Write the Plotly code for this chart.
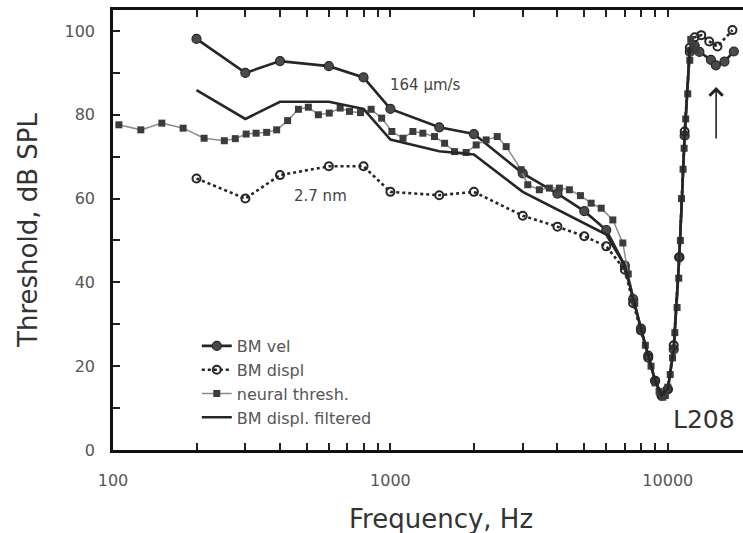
import numpy as np
import plotly.graph_objects as go

FONT = "DejaVu Sans"

# ---- data ----
vel_f = [200, 300, 400, 600, 800, 1000, 1500, 2000, 3000, 4000, 5000, 6000,
         7000, 7500, 8000, 8500, 9000, 9500, 10000, 10500, 11000, 11500, 12000,
         12500, 13000, 14300, 14900, 16000, 17300]
vel_db = [98.1, 90.0, 92.8, 91.6, 88.9, 81.4, 77.0, 75.4, 66.0, 61.2, 57.0, 52.5,
          44.0, 36.0, 29.0, 22.5, 16.5, 13.0, 14.5, 24.0, 46.0, 75.0, 95.0,
          96.5, 95.0, 93.1, 91.8, 92.7, 95.1]

displ_f = [200, 300, 400, 600, 800, 1000, 1500, 2000, 3000, 4000, 5000, 6000,
           7000, 7500, 8000, 8500, 9000, 9500, 10000, 10500, 11000, 11500, 12000,
           12500, 13200, 14100, 15100, 17100]
displ_db = [64.8, 60.0, 65.6, 67.7, 67.7, 61.6, 60.8, 61.6, 55.9, 53.3, 51.0, 48.6,
            43.0, 35.0, 28.5, 22.0, 16.5, 13.0, 14.5, 25.0, 46.0, 76.0, 96.0,
            98.5, 99.0, 97.5, 96.3, 100.2]

neural_f = [105, 126, 150, 179, 213, 252, 276, 302, 328, 358, 389, 426, 466, 506,
            550, 602, 659, 712, 780, 852, 930, 1012, 1110, 1205, 1309, 1442, 1568,
            1703, 1875, 2038, 2214, 2427, 2614, 2958, 3127, 3443, 3741, 4066, 4418,
            4842, 5291, 5752, 6336, 6883, 7200, 7600, 8000, 8300, 8700, 9000, 9300,
            9600, 9800, 10000, 10200, 10400, 10600, 10800, 10950, 11100, 11200,
            11350, 11450, 11600, 11800, 12000, 12100, 12300, 12600]
neural_db = [77.6, 76.4, 78.0, 76.8, 74.4, 73.8, 74.3, 75.4, 75.6, 75.8, 76.4, 78.6,
             81.3, 81.8, 80.0, 80.4, 81.6, 80.8, 80.5, 81.3, 79.2, 76.0, 74.4, 76.0,
             75.6, 74.8, 73.2, 71.2, 71.0, 72.8, 74.0, 74.8, 72.4, 66.9, 63.3, 62.1,
             62.5, 62.5, 62.1, 60.7, 58.9, 57.7, 54.9, 49.4, 42.0, 35.0, 29.0, 25.0,
             20.0, 16.0, 14.0, 12.6, 13.0, 15.0, 18.0, 22.0, 28.0, 34.0, 41.0, 50.0,
             60.0, 67.0, 72.0, 79.0, 85.0, 93.0, 98.0, 96.5, 95.5]

filt_f = [200, 300, 400, 600, 800, 1000, 1500, 2000, 3000, 6000, 7000, 7500, 8000,
          8500, 9000, 9500, 10000, 10500, 11000, 11500, 12000]
filt_db = [85.9, 79.0, 83.1, 83.1, 81.4, 74.1, 71.3, 70.5, 61.6, 51.4, 44.0, 36.0,
           29.0, 22.5, 16.5, 13.0, 14.5, 24.0, 46.0, 75.0, 96.0]

x_tickvals = [100, 200, 300, 400, 500, 600, 700, 800, 900,
              1000, 2000, 3000, 4000, 5000, 6000, 7000, 8000, 9000, 10000]
x_ticktext = ["100", "", "", "", "", "", "", "", "",
              "1000", "", "", "", "", "", "", "", "", "10000"]
y_tickvals = [0, 10, 20, 30, 40, 50, 60, 70, 80, 90, 100]
y_ticktext = ["0", "", "20", "", "40", "", "60", "", "80", "", "100"]

DARK = "#262626"

fig = go.Figure()
fig.add_trace(go.Scatter(
    x=vel_f, y=vel_db, name="BM vel", mode="lines+markers",
    line=dict(color=DARK, width=2.6),
    marker=dict(symbol="circle", size=9, color="#4a4a4a", line=dict(color=DARK, width=1.2)),
))
fig.add_trace(go.Scatter(
    x=displ_f, y=displ_db, name="BM displ", mode="lines+markers",
    line=dict(color=DARK, width=2.6, dash="dot"),
    marker=dict(symbol="circle-open", size=8, color=DARK, line=dict(width=2)),
))
fig.add_trace(go.Scatter(
    x=neural_f, y=neural_db, name="neural thresh.", mode="lines+markers",
    line=dict(color="#8c8c8c", width=1.5),
    marker=dict(symbol="square", size=7, color="#3c3c3c"),
))
fig.add_trace(go.Scatter(
    x=filt_f, y=filt_db, name="BM displ. filtered", mode="lines",
    line=dict(color=DARK, width=2.6),
))

fig.update_xaxes(
    type="log", range=[2, 4.271],
    tickmode="array", tickvals=x_tickvals, ticktext=x_ticktext,
    ticks="inside", ticklen=7, tickwidth=1.5, tickcolor="#222",
    showline=True, linecolor="#111", linewidth=2.5, mirror="ticks",
    showgrid=False, zeroline=False,
    tickfont=dict(family=FONT, size=16, color="#555"),
    ticklabelstandoff=14,
)
fig.update_yaxes(
    range=[0, 105],
    tickmode="array", tickvals=y_tickvals, ticktext=y_ticktext,
    ticks="inside", ticklen=7, tickwidth=1.5, tickcolor="#222",
    showline=True, linecolor="#111", linewidth=2.5,
    showgrid=False, zeroline=False,
    tickfont=dict(family=FONT, size=16, color="#555"),
    ticklabelstandoff=12,
    title=dict(text="Threshold, dB SPL", font=dict(family=FONT, size=26, color="#333"), standoff=20),
)

annotations = [
    dict(x=np.log10(1340), y=87.1, xref="x", yref="y", text="164 \u00b5m/s", showarrow=False,
         font=dict(family=FONT, size=15, color="#444"), xanchor="center", yanchor="middle"),
    dict(x=np.log10(562), y=60.5, xref="x", yref="y", text="2.7 nm", showarrow=False,
         font=dict(family=FONT, size=15, color="#444"), xanchor="center", yanchor="middle"),
    dict(x=np.log10(13520), y=7.2, xref="x", yref="y", text="L208", showarrow=False,
         font=dict(family=FONT, size=25, color="#333"), xanchor="center", yanchor="middle"),
    dict(x=np.log10(14930), y=86.6, xref="x", yref="y", ax=np.log10(14930), ay=74.0,
         axref="x", ayref="y", text="", showarrow=True, arrowhead=4, arrowsize=1.6,
         arrowwidth=1.6, arrowcolor="#222"),
    dict(x=0.5206, y=-0.157, xref="paper", yref="paper", text="Frequency, Hz",
         showarrow=False, font=dict(family=FONT, size=26, color="#333"),
         xanchor="center", yanchor="middle"),
]

fig.update_layout(
    width=743, height=533,
    margin=dict(l=113, r=0, t=10, b=83),
    plot_bgcolor="white", paper_bgcolor="white",
    showlegend=True,
    legend=dict(x=0.133, y=0.275, xanchor="left", yanchor="top",
                font=dict(family=FONT, size=16, color="#555"),
                bgcolor="rgba(0,0,0,0)", tracegroupgap=0),
    annotations=annotations,
)

fig.write_html("out.html")
